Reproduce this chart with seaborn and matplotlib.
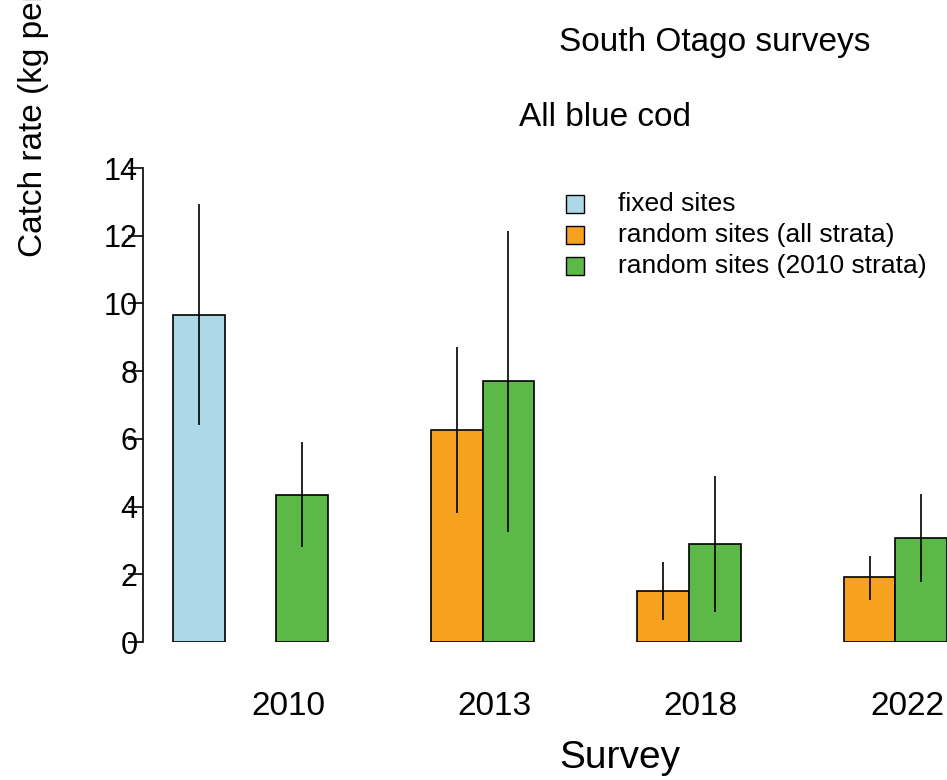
import numpy as np
import pandas as pd
import seaborn as sns
import matplotlib.pyplot as plt

years = ["2010", "2013", "2018", "2022"]
series = ["fixed sites", "random sites (all strata)", "random sites (2010 strata)"]
colors = ["#ADD8E6", "#F6A21E", "#5DB947"]
# rows: series, cols: years (nan = no survey)
means = [[9.65, np.nan, np.nan, np.nan],
         [np.nan, 6.25, 1.50, 1.93],
         [4.35, 7.70, 2.90, 3.07]]
lower = [[6.40, np.nan, np.nan, np.nan],
         [np.nan, 3.80, 0.65, 1.25],
         [2.80, 3.25, 0.90, 1.78]]
upper = [[12.95, np.nan, np.nan, np.nan],
         [np.nan, 8.70, 2.35, 2.55],
         [5.90, 12.15, 4.90, 4.37]]

rows = []
for s in range(3):
    for g in range(4):
        if not np.isnan(means[s][g]):
            rows.append({"pos": 4 * g + s + 0.5, "series": series[s],
                         "mean": means[s][g], "lo": lower[s][g], "hi": upper[s][g]})
df = pd.DataFrame(rows)

sns.set_style("white")
plt.rcParams["font.family"] = ["Liberation Sans", "DejaVu Sans"]
plt.rcParams["text.color"] = "black"
plt.rcParams["ytick.color"] = "black"
plt.rcParams["ytick.labelcolor"] = "black"
W, H = 947, 780
unit = 51.6
fig = plt.figure(figsize=(W / 100, H / 100), dpi=100)
ax = fig.add_axes([143 / W, 1 - 642 / H, (W - 143) / W, (642 - 168) / H])

sns.barplot(data=df, x="pos", y="mean", hue="series", hue_order=series,
            palette=colors, saturation=1, native_scale=True, dodge=False, width=1,
            edgecolor="black", linewidth=1.2, errorbar=None, ax=ax, legend=False)
ax.vlines(df["pos"], df["lo"], df["hi"], color="black", linewidth=1.2, clip_on=False)

ax.set_xlim((143 - 173) / unit, (947 - 173) / unit)
ax.set_ylim(0, 14)
for sp in ["top", "right", "bottom"]:
    ax.spines[sp].set_visible(False)
ax.spines["left"].set_linewidth(1.2)
ax.spines["left"].set_color("black")
ax.set_yticks(range(0, 15, 2))
ax.tick_params(axis="y", length=11, width=1.2, pad=-7, labelsize=22, left=True,
               colors="black")
ax.set_xticks([])
ax.set_xlabel("")
ax.set_ylabel("")

for g, y in enumerate(years):
    ax.text(4 * g + 2.23, -1.9, y, ha="center", va="center", fontsize=24, clip_on=False)

fig.text(620 / W, 1 - 758 / H, "Survey", ha="center", va="center", fontsize=28)
fig.text(715 / W, 1 - 42 / H, "South Otago surveys", ha="center", va="center", fontsize=24)
fig.text(605 / W, 1 - 118 / H, "All blue cod", ha="center", va="center", fontsize=24)
fig.text(18 / W, 1 - 257 / H, "Catch rate (kg per angler hour)", rotation=90,
         ha="left", va="bottom", fontsize=24)

for i, (lab, c) in enumerate(zip(series, colors)):
    yy = 1 - (204 + 31 * i) / H
    fig.patches.append(plt.Rectangle((575 / W - 9 / W, yy - 9 / H), 18 / W, 18 / H,
                                     transform=fig.transFigure, facecolor=c,
                                     edgecolor="black", linewidth=1))
    fig.text(618 / W, yy, lab, ha="left", va="center", fontsize=19)

fig.savefig("out.png", dpi=100)
